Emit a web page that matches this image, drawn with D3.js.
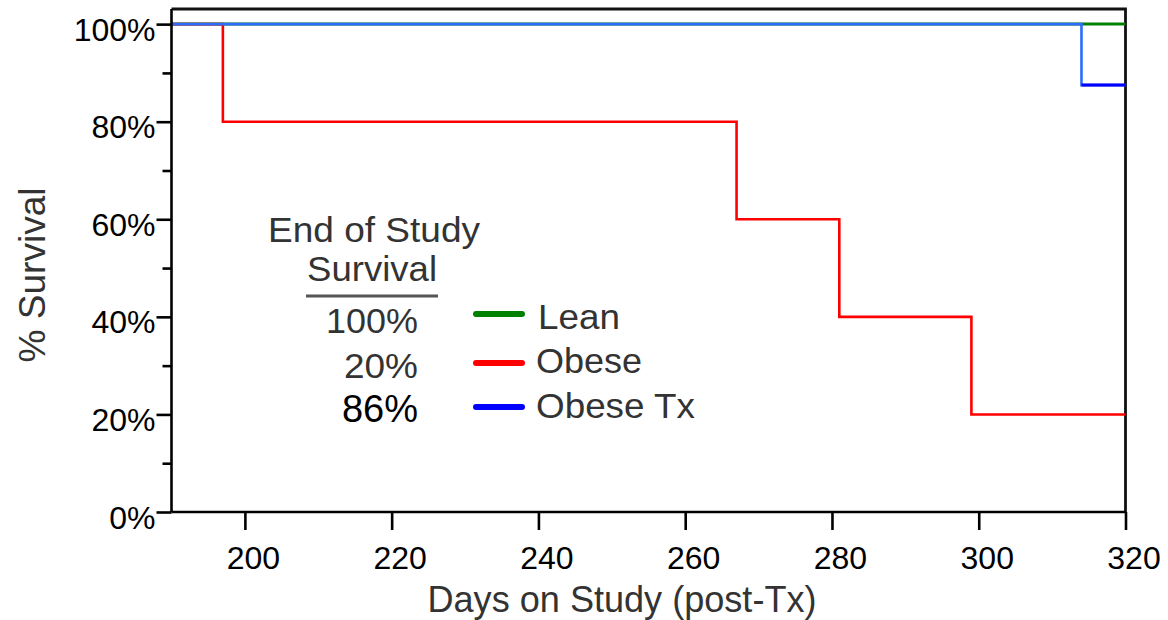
<!DOCTYPE html>
<html>
<head>
<meta charset="utf-8">
<script src="https://cdn.jsdelivr.net/npm/d3@7"></script>
<style>
  html, body { margin: 0; padding: 0; background: #fff; }
  svg { display: block; font-family: "Liberation Sans", Arial, sans-serif; }
</style>
</head>
<body>
<svg id="chart" width="1168" height="620"></svg>
<script>
// ---- data ----
const seriesNames = ["Lean", "Obese", "Obese Tx"];
const seriesColors = ["#008000", "#ff0000", "#2d6cff"];
const legendColors = ["#008000", "#ff0000", "#0000ff"];
const endSurvivalLabels = ["100%", "20%", "86%"];
// step survival curves: [day, % survival after that day]
const leanSteps = [[190, 100], [320, 100]];
const obeseSteps = [[190, 100], [197, 80], [267, 60], [281, 40], [299, 20], [320, 20]];
const obeseTxSteps = [[190, 100], [314, 87.5], [320, 87.5]];
const xTicks = [200, 220, 240, 260, 280, 300, 320];
const yMajorTicks = [0, 20, 40, 60, 80, 100];
const yMinorTicks = [10, 30, 50, 70, 90];

const svg = d3.select("#chart");
const x = d3.scaleLinear().domain([190, 320]).range([171.5, 1125.5]);
const y = d3.scaleLinear().domain([0, 103.1]).range([512, 9]);

// frame (top and right)
svg.append("path")
  .attr("d", `M${x(190)},${y(103.1)}H${x(320)}V${y(0)}`)
  .attr("fill", "none").attr("stroke", "#111").attr("stroke-width", 2.8);

// lines
const line = d3.line().x(d => x(d[0])).y(d => y(d[1])).curve(d3.curveStepAfter);
const allSteps = [leanSteps, obeseSteps, obeseTxSteps];
allSteps.forEach((s, i) => {
  svg.append("path").datum(s).attr("d", line)
    .attr("fill", "none").attr("stroke", seriesColors[i]).attr("stroke-width", i === 0 ? 3 : 2.6);
});
// final (censored) segment of Obese Tx drawn in darker blue
const lastTx = obeseTxSteps.slice(-2);
svg.append("path").datum(lastTx).attr("d", line)
  .attr("fill", "none").attr("stroke", legendColors[2]).attr("stroke-width", 3);

// axes
const xAxis = d3.axisBottom(x).tickValues(xTicks).tickSize(18).tickPadding(16)
  .tickFormat(d3.format("d"));
const gx = svg.append("g").attr("transform", `translate(0,${y(0)})`).call(xAxis);
gx.select(".domain").attr("d", `M${x(190)},0H${x(320)}`);

const yAxis = d3.axisLeft(y).tickValues(yMajorTicks).tickSize(15).tickPadding(1)
  .tickFormat(d => d + "%");
const gy = svg.append("g").attr("transform", `translate(${x(190)},0)`).call(yAxis);
gy.select(".domain").attr("d", `M0,${y(103.1)}V${y(0)}`);
const gyMinor = svg.append("g").attr("transform", `translate(${x(190)},0)`)
  .call(d3.axisLeft(y).tickValues(yMinorTicks).tickSize(9).tickFormat(""));
gyMinor.select(".domain").remove();

[gx, gy, gyMinor].forEach(g => {
  g.selectAll(".domain").attr("stroke", "#000").attr("stroke-width", 2.6);
  g.selectAll(".tick line").attr("stroke", "#000").attr("stroke-width", 2.6);
  g.selectAll(".tick text").attr("fill", "#000").attr("font-size", 32)
    .attr("font-family", "'Liberation Sans', Arial, sans-serif");
});
gy.selectAll(".tick text").attr("dy", "0.5em");
gx.selectAll(".tick text").attr("dy", "0.71em").attr("dx", 8);

// axis titles
svg.append("text").attr("x", 622).attr("y", 612).attr("text-anchor", "middle")
  .attr("font-size", 36).attr("fill", "#333")
  .attr("textLength", 389).attr("lengthAdjust", "spacingAndGlyphs")
  .text("Days on Study (post-Tx)");
svg.append("text").attr("transform", "translate(45,275) rotate(-90)")
  .attr("text-anchor", "middle").attr("font-size", 36).attr("fill", "#333")
  .attr("textLength", 175).attr("lengthAdjust", "spacingAndGlyphs")
  .text("% Survival");

// end-of-study block
svg.append("text").attr("x", 374).attr("y", 242).attr("text-anchor", "middle")
  .attr("font-size", 35).attr("fill", "#333")
  .attr("textLength", 212).attr("lengthAdjust", "spacingAndGlyphs").text("End of Study");
svg.append("text").attr("x", 372).attr("y", 281).attr("text-anchor", "middle")
  .attr("font-size", 35).attr("fill", "#333")
  .attr("textLength", 130).attr("lengthAdjust", "spacingAndGlyphs").text("Survival");
svg.append("line").attr("x1", 306).attr("x2", 438).attr("y1", 296).attr("y2", 296)
  .attr("stroke", "#555").attr("stroke-width", 3);

const rowY = [333, 378, 422];
const pctWidths = [92, 74, 78];
endSurvivalLabels.forEach((t, i) => {
  const el = svg.append("text").attr("x", 418).attr("y", rowY[i]).attr("text-anchor", "end")
    .text(t);
  if (i < 2) {
    el.attr("font-size", 35).attr("fill", "#333")
      .attr("textLength", pctWidths[i]).attr("lengthAdjust", "spacingAndGlyphs");
  } else {
    el.attr("font-size", 38).attr("fill", "#000");
  }
});

// legend
const legY = [314, 363, 407];
const legLabelY = [329, 373, 418];
const legWidths = [82, 106, 159];
seriesNames.forEach((n, i) => {
  svg.append("line").attr("x1", 476).attr("x2", 522).attr("y1", legY[i]).attr("y2", legY[i])
    .attr("stroke", legendColors[i]).attr("stroke-width", 6).attr("stroke-linecap", "round");
  svg.append("text").attr("x", i === 0 ? 538 : 536).attr("y", legLabelY[i])
    .attr("font-size", 35).attr("fill", "#333")
    .attr("textLength", legWidths[i]).attr("lengthAdjust", "spacingAndGlyphs")
    .text(n);
});
</script>
</body>
</html>
